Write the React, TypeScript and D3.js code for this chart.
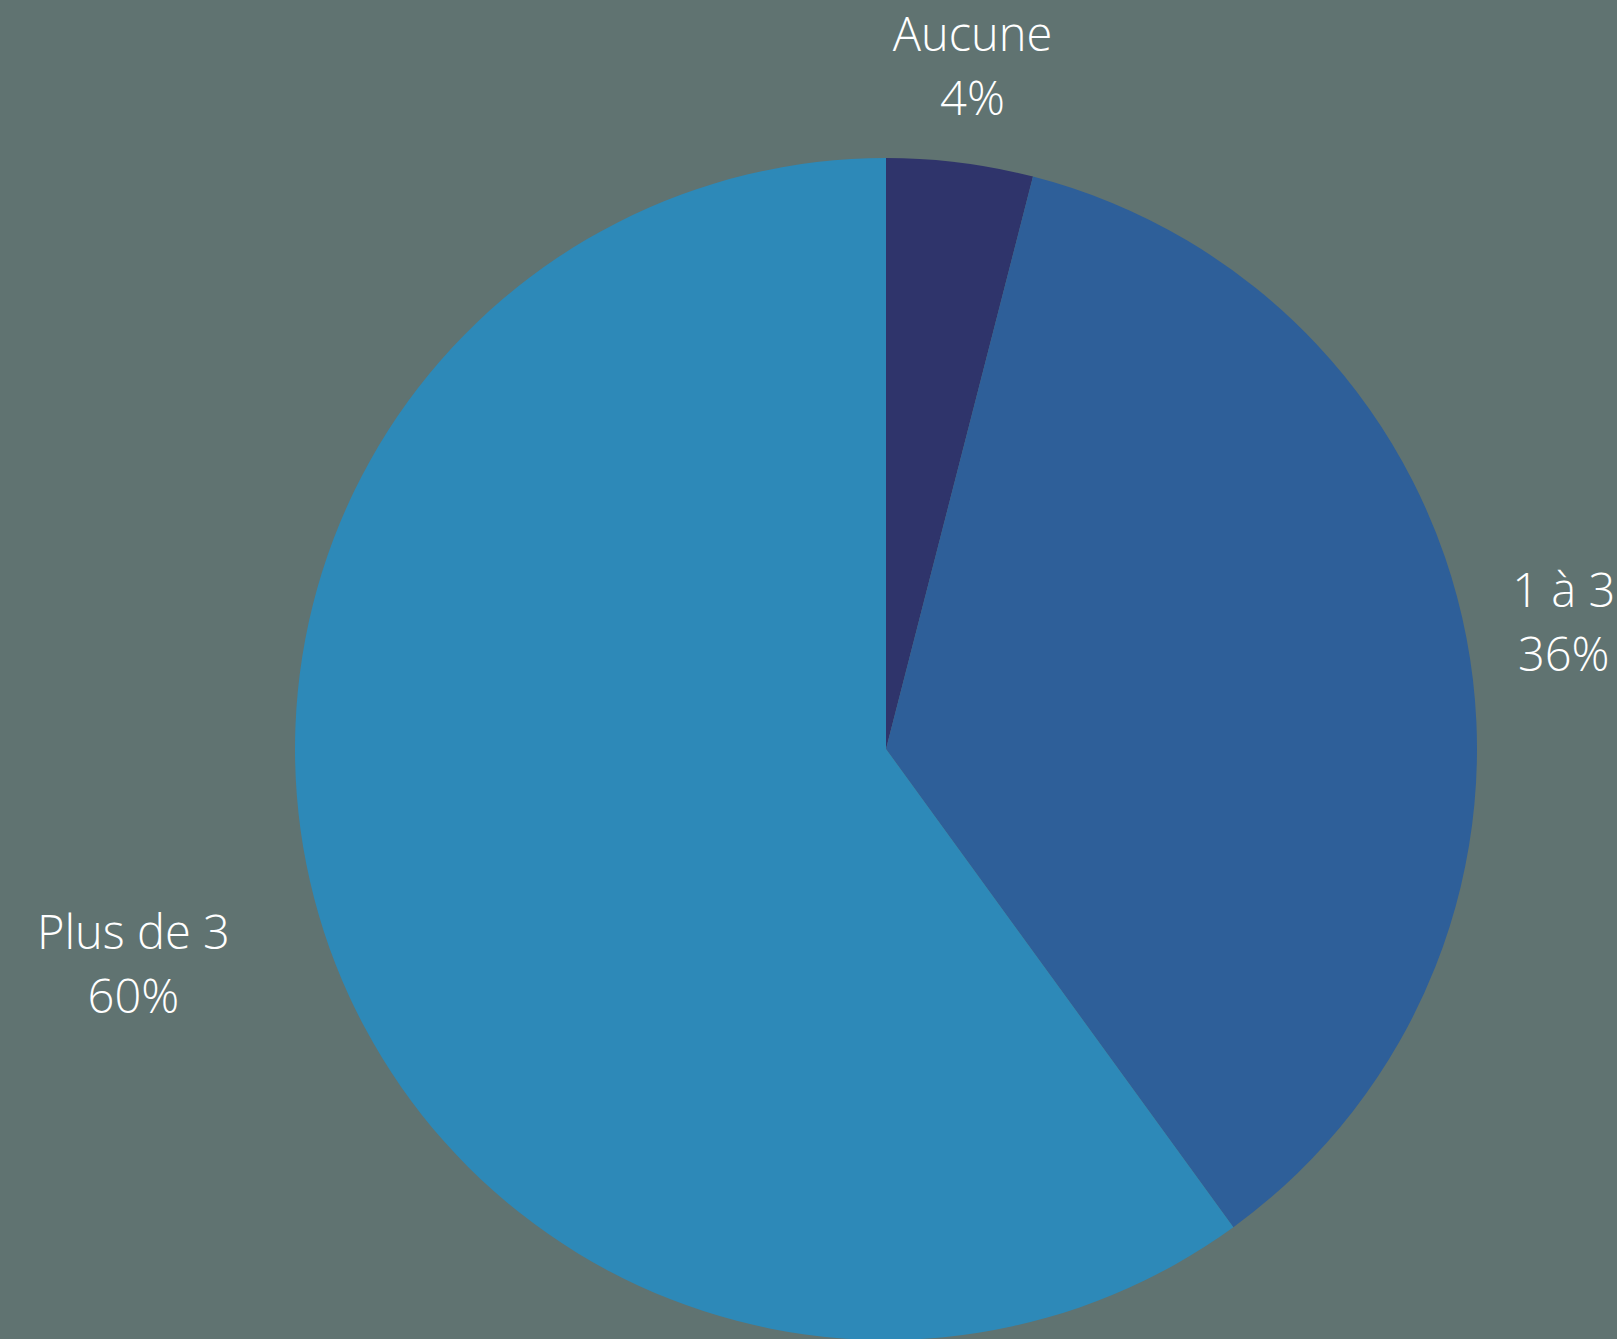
import React, { useEffect, useRef } from "react";
import * as d3 from "d3";

const categories = ["Aucune", "1 à 3", "Plus de 3"];
const values = [4, 36, 60];
const colors = ["#2f346b", "#2e5f99", "#2d89b8"];

const W = 1617;
const H = 1339;
const CX = 886;
const CY = 749;
const R = 591;
const LABEL_R = 690;

export default function App() {
  const ref = useRef<SVGSVGElement | null>(null);

  useEffect(() => {
    const svg = d3.select(ref.current);
    svg.selectAll("*").remove();
    svg.append("rect").attr("width", W).attr("height", H).attr("fill", "#607371");

    const data = categories.map((c, i) => ({ c, v: values[i], color: colors[i] }));
    const pie = d3.pie<any>().value((d) => d.v).sort(null);
    const arcs = pie(data);
    const arc = d3.arc<any>().innerRadius(0).outerRadius(R);
    const labelArc = d3.arc<any>().innerRadius(LABEL_R).outerRadius(LABEL_R);

    const g = svg.append("g").attr("transform", `translate(${CX},${CY})`);
    g.selectAll("path")
      .data(arcs)
      .join("path")
      .attr("d", arc as any)
      .attr("fill", (d: any) => d.data.color);

    arcs.forEach((a: any) => {
      const [x, y] = labelArc.centroid(a);
      const t = g
        .append("text")
        .attr("y", y - 13)
        .attr("fill", "#ffffff")
        .attr("font-family", "'Open Sans', sans-serif")
        .attr("font-weight", 300)
        .attr("font-size", 47)
        .attr("text-anchor", "middle");
      const s1 = t.append("tspan").attr("x", x).text(a.data.c);
      const s2 = t.append("tspan").attr("x", x).attr("dy", 64).text(`${a.data.v}%`);
      // if centered label would come too close to the pie, shift it outward (lines stay centered)
      const node = t.node() as SVGTextElement;
      const w = node.getBBox().width;
      const inner = x > 0 ? x - w / 2 : -(x + w / 2);
      const yy = Math.min(Math.abs(y), R);
      const edge = Math.sqrt(R * R - yy * yy);
      if (Math.abs(x) > 200 && inner - edge < 30) {
        const nx = x > 0 ? x + w / 2 : x - w / 2;
        s1.attr("x", nx);
        s2.attr("x", nx);
      }
    });
  }, []);

  return (
    <svg
      ref={ref}
      width={W}
      height={H}
      style={{ position: "fixed", left: 0, top: 0, display: "block" }}
    />
  );
}
